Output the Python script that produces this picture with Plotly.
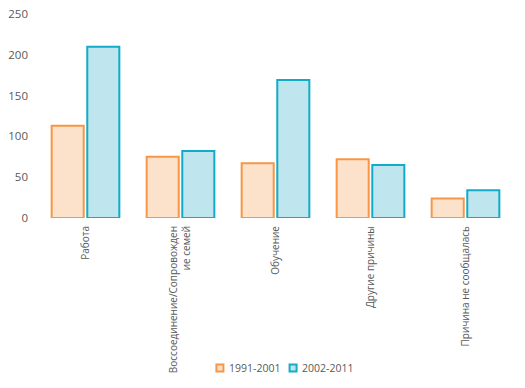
import plotly.graph_objects as go

categories = ["Работа", "Воссоединение/Сопровожден<br>ие семей", "Обучение", "Другие причины", "Причина не сообщалась"]
series_names = ["1991-2001", "2002-2011"]
values_1991 = [113, 75, 67, 72, 24]
values_2002 = [210, 82, 169, 65, 34]
y_ticks = [0, 50, 100, 150, 200, 250]

font_family = "Open Sans, Liberation Sans, sans-serif"
grey = "#595959"
orange_line, orange_fill = "#F79646", "#FDE2CB"
teal_line, teal_fill = "#12ACC8", "#BFE6EE"

fig = go.Figure()
fig.add_trace(go.Bar(
    x=categories, y=values_1991, name=series_names[0],
    marker=dict(color=orange_fill, line=dict(color=orange_line, width=2)),
))
fig.add_trace(go.Bar(
    x=categories, y=values_2002, name=series_names[1],
    marker=dict(color=teal_fill, line=dict(color=teal_line, width=2)),
))

# compact legend drawn as paper-positioned keys and labels
legend_y = -0.735
sq_h = 7 / 204
sq_w = 7 / 475
for cx, tx, name, fc, lc in [(0.383, 0.397, series_names[0], orange_fill, orange_line),
                             (0.537, 0.551, series_names[1], teal_fill, teal_line)]:
    fig.add_shape(type="rect", xref="paper", yref="paper",
                  x0=cx - sq_w / 2, x1=cx + sq_w / 2,
                  y0=legend_y - sq_h / 2, y1=legend_y + sq_h / 2,
                  fillcolor=fc, line=dict(color=lc, width=2))
    fig.add_annotation(xref="paper", yref="paper", x=tx, y=legend_y,
                       xanchor="left", yanchor="middle", showarrow=False,
                       text=name, font=dict(size=10.5, color=grey))

fig.update_layout(
    width=525, height=388,
    margin=dict(l=38, r=12, t=14, b=170),
    paper_bgcolor="white", plot_bgcolor="white",
    barmode="group", bargap=0.25, bargroupgap=0.1,
    font=dict(family=font_family, size=11, color=grey),
    showlegend=False,
    xaxis=dict(tickangle=-90, showline=False, ticks="", showgrid=False, automargin=False,
               tickfont=dict(size=10, color=grey), ticklabelstandoff=5),
    yaxis=dict(range=[0, 250], tickvals=y_ticks, showgrid=False, showline=False,
               zeroline=False, ticks="", automargin=False,
               tickfont=dict(size=11.5, color=grey), ticklabelstandoff=9),
)

fig.write_html("out.html", config={"displayModeBar": False},
               post_script="document.body.style.margin='0';")
